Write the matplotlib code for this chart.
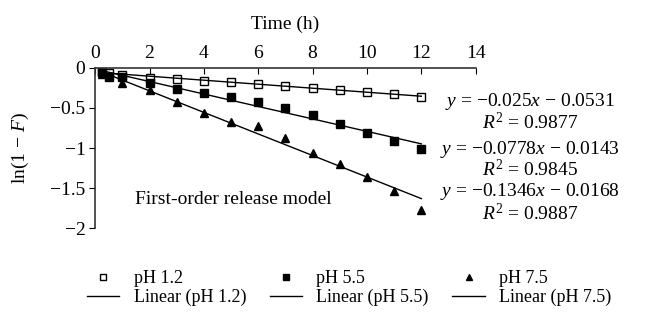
import numpy as np
import matplotlib.pyplot as plt

plt.rcParams['font.family'] = ['Liberation Serif', 'DejaVu Serif']
plt.rcParams['mathtext.fontset'] = 'custom'
plt.rcParams['mathtext.rm'] = 'Liberation Serif'
plt.rcParams['mathtext.it'] = 'Liberation Serif:italic'

# data
time_h = [0.25, 0.5, 1, 2, 3, 4, 5, 6, 7, 8, 9, 10, 11, 12]
ph12 = [-0.05, -0.06, -0.09, -0.12, -0.14, -0.16, -0.175, -0.2, -0.22, -0.25, -0.27, -0.3, -0.33, -0.36]
ph55 = [-0.05, -0.11, -0.11, -0.19, -0.26, -0.31, -0.36, -0.43, -0.5, -0.59, -0.7, -0.81, -0.91, -1.01]
ph75 = [-0.07, -0.1, -0.19, -0.28, -0.43, -0.56, -0.67, -0.73, -0.87, -1.06, -1.2, -1.36, -1.54, -1.77]

labels = ['pH 1.2', 'pH 5.5', 'pH 7.5']
slopes = [-0.025, -0.0778, -0.1346]
intercepts = [-0.0531, -0.0143, -0.0168]
r2 = ['0.9877', '0.9845', '0.9887']

fig = plt.figure(figsize=(6.7, 3.19), dpi=100)
ax = fig.add_axes([0.142, 0.285, 0.568, 0.502])

fs = 14
markers = [dict(marker='s', mfc='white', mec='black', ms=6, mew=1),
           dict(marker='s', mfc='black', mec='black', ms=6),
           dict(marker='^', mfc='black', mec='black', ms=6)]

handles = []
t = np.array(time_h)
for vals, lab, m, a, b in zip([ph12, ph55, ph75], labels, markers, slopes, intercepts):
    h1, = ax.plot(time_h, vals, ls='none', label=lab, **m)
    h2, = ax.plot(t, a * t + b, color='black', lw=1, label='Linear (%s)' % lab)
    handles += [h1, h2]

ax.set_xlim(0, 14)
ax.set_ylim(-2, 0)
ax.set_xticks(range(0, 15, 2))
ax.set_yticks([0, -0.5, -1, -1.5, -2])
ax.set_yticklabels(['0', '\u22120.5', '\u22121', '\u22121.5', '\u22122'])
ax.xaxis.tick_top()
ax.xaxis.set_label_position('top')
ax.tick_params(axis='x', direction='in', length=4, labelsize=fs, pad=4)
ax.tick_params(axis='y', direction='out', length=4, labelsize=fs, pad=3)
ax.spines['right'].set_visible(False)
ax.spines['bottom'].set_visible(False)
for s in ['top', 'left']:
    ax.spines[s].set_color('#333333')
    ax.spines[s].set_linewidth(1.2)
ax.set_xlabel('Time (h)', fontsize=fs, labelpad=12)
ax.set_ylabel(r'ln(1 $-$ $F$)', fontsize=fs, labelpad=14)

ax.text(1.47, -1.64, 'First-order release model', fontsize=fs, va='center')

# baselines of the trendline labels
eq_y = [-0.475, -1.07, -1.6]
r2_y = [-0.765, -1.35, -1.9]
for a, b, r, ey, ry in zip(slopes, intercepts, r2, eq_y, r2_y):
    ax.text(16.0, ey, r'$y$ = $-$%gx $-$ %g'.replace('x', '$x$') % (abs(a), abs(b)),
            fontsize=fs, ha='center', va='baseline', clip_on=False)
    ax.text(16.0, ry, r'$R^2$ = %s' % r, fontsize=fs, ha='center', va='baseline', clip_on=False)

fig.legend(handles=handles, ncol=3, loc='upper left', bbox_to_anchor=(0.105, 0.205),
           frameon=False, fontsize=fs - 1, handlelength=1.8, columnspacing=1.3,
           labelspacing=0.1, handletextpad=0.8, markerscale=0.75)

fig.savefig('out.png', dpi=100)
